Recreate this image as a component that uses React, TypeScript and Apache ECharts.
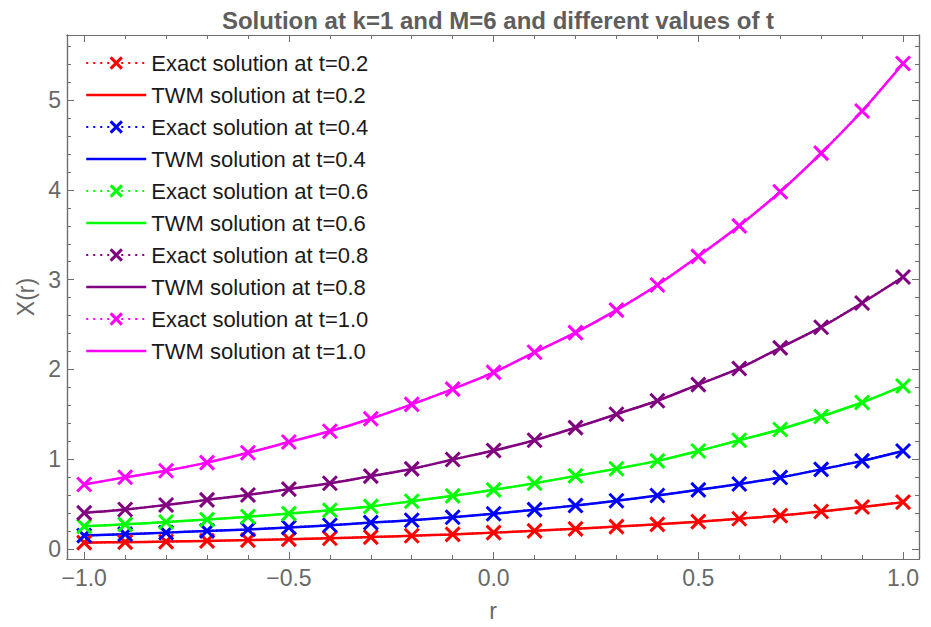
import React, { useEffect, useRef } from "react";
import * as echarts from "echarts";

const TITLE = "Solution at k=1 and M=6 and different values of t";
const X_NAME = "r";
const Y_NAME = "X(r)";

const rValues = [-1, -0.9, -0.8, -0.7, -0.6, -0.5, -0.4, -0.3, -0.2, -0.1, 0, 0.1, 0.2, 0.3, 0.4, 0.5, 0.6, 0.7, 0.8, 0.9, 1];

const valuesT02 = [0.068, 0.074, 0.080, 0.088, 0.097, 0.107, 0.118, 0.130, 0.145, 0.160, 0.180, 0.200, 0.222, 0.247, 0.272, 0.302, 0.335, 0.370, 0.415, 0.465, 0.520];
const valuesT04 = [0.147, 0.163, 0.180, 0.199, 0.215, 0.238, 0.262, 0.292, 0.318, 0.352, 0.390, 0.436, 0.482, 0.535, 0.594, 0.657, 0.722, 0.795, 0.885, 0.980, 1.090];
const valuesT06 = [0.250, 0.272, 0.298, 0.325, 0.358, 0.392, 0.430, 0.472, 0.530, 0.590, 0.657, 0.730, 0.812, 0.892, 0.980, 1.090, 1.210, 1.330, 1.475, 1.630, 1.815];
const valuesT08 = [0.400, 0.438, 0.488, 0.545, 0.600, 0.665, 0.730, 0.810, 0.890, 0.995, 1.095, 1.210, 1.350, 1.500, 1.650, 1.830, 2.010, 2.240, 2.470, 2.740, 3.030];
const valuesT10 = [0.716, 0.797, 0.870, 0.960, 1.070, 1.190, 1.310, 1.450, 1.610, 1.780, 1.966, 2.190, 2.410, 2.660, 2.940, 3.260, 3.600, 3.980, 4.410, 4.880, 5.410];

const tLabels = ["0.2", "0.4", "0.6", "0.8", "1.0"];
const tValues = [valuesT02, valuesT04, valuesT06, valuesT08, valuesT10];
const tColors = ["#ff0000", "#0000ff", "#00ff00", "#800080", "#ff00ff"];

const xMajorTicks = [-1, -0.5, 0, 0.5, 1];
const xMinorTicks = [-1, -0.9, -0.8, -0.7, -0.6, -0.5, -0.4, -0.3, -0.2, -0.1, 0, 0.1, 0.2, 0.3, 0.4, 0.5, 0.6, 0.7, 0.8, 0.9, 1];
const yMajorTicks = [0, 1, 2, 3, 4, 5];
const yMinorTicks = [0, 0.2, 0.4, 0.6, 0.8, 1, 1.2, 1.4, 1.6, 1.8, 2, 2.2, 2.4, 2.6, 2.8, 3, 3.2, 3.4, 3.6, 3.8, 4, 4.2, 4.4, 4.6, 4.8, 5, 5.2, 5.4, 5.6];

const X_MIN = -1.042;
const X_MAX = 1.039;
const Y_MIN = -0.114;
const Y_MAX = 5.727;

const FONT = "'Liberation Sans', Arial, sans-serif";
const FRAME = "#6e6e6e";
const LABEL = "#686868";
const X_SYMBOL = "path://M0,0L10,10M10,0L0,10";

function fmtX(v: number) {
  return v.toFixed(1).replace("-", "\u2212");
}

export default function App() {
  const ref = useRef<HTMLDivElement>(null);
  useEffect(() => {
    if (!ref.current) return;
    const chart = echarts.init(ref.current, null, { renderer: "svg" });

    const series: any[] = [];
    const legendData: any[] = [];
    tLabels.forEach((t, i) => {
      const data = rValues.map((r, k) => [r, tValues[i][k]]);
      const c = tColors[i];
      const exactName = `Exact solution at t=${t}`;
      const twmName = `TWM solution at t=${t}`;
      series.push({
        name: exactName,
        type: "line",
        data,
        xAxisIndex: 0,
        yAxisIndex: 0,
        symbol: X_SYMBOL,
        symbolSize: 14,
        showAllSymbol: true,
        lineStyle: { color: c, width: 2, type: "dotted" },
        itemStyle: { color: c, borderColor: c, borderWidth: 3 },
        z: 3,
      });
      series.push({
        name: twmName,
        type: "line",
        data,
        xAxisIndex: 0,
        yAxisIndex: 0,
        smooth: 0.3,
        symbol: "none",
        lineStyle: { color: c, width: 2.5, type: "solid" },
        itemStyle: { color: c },
        z: 2,
      });
      legendData.push({
        name: exactName,
        itemStyle: { color: c, borderColor: c, borderWidth: 3, opacity: 1 },
        lineStyle: { color: c, width: 2, type: [2, 5] },
      });
      legendData.push({
        name: twmName,
        itemStyle: { opacity: 0 },
        lineStyle: { color: c, width: 2.5, type: "solid" },
      });
    });

    const baseX = {
      type: "value",
      min: X_MIN,
      max: X_MAX,
      gridIndex: 0,
      splitLine: { show: false },
      axisLine: { show: true, onZero: false, lineStyle: { color: FRAME, width: 1.2 } },
    };
    const baseY = {
      type: "value",
      min: Y_MIN,
      max: Y_MAX,
      gridIndex: 0,
      splitLine: { show: false },
      axisLine: { show: true, onZero: false, lineStyle: { color: FRAME, width: 1.2 } },
    };

    chart.setOption({
      animation: false,
      backgroundColor: "#ffffff",
      title: {
        text: TITLE,
        left: 493,
        textAlign: "center",
        top: 3,
        textStyle: { fontFamily: FONT, fontSize: 24, fontWeight: "bold", color: "#5e5e5e" },
      },
      grid: { left: 67, top: 35, right: 12, bottom: 64, containLabel: false },
      legend: {
        orient: "vertical",
        left: 80,
        top: 47,
        itemWidth: 60,
        itemHeight: 14,
        itemGap: 10,
        data: legendData,
        textStyle: {
          fontFamily: FONT,
          fontSize: 22,
          lineHeight: 22,
          color: "#1a1a1a",
        },
      },
      xAxis: [
        {
          ...baseX,
          position: "bottom",
          name: X_NAME,
          nameLocation: "middle",
          nameGap: 40,
          nameTextStyle: { fontFamily: FONT, fontSize: 23, color: LABEL },
          axisTick: { show: true, inside: true, length: 7, customValues: xMajorTicks, lineStyle: { color: FRAME } },
          axisLabel: {
            show: true,
            customValues: xMajorTicks,
            margin: 7,
            fontFamily: FONT,
            fontSize: 23,
            color: LABEL,
            formatter: (v: number) => fmtX(v),
          },
        },
        {
          ...baseX,
          position: "bottom",
          axisTick: { show: true, inside: true, length: 4, customValues: xMinorTicks, lineStyle: { color: FRAME } },
          axisLabel: { show: false },
        },
        {
          ...baseX,
          position: "top",
          axisTick: { show: true, inside: true, length: 7, customValues: xMajorTicks, lineStyle: { color: FRAME } },
          axisLabel: { show: false },
        },
        {
          ...baseX,
          position: "top",
          axisTick: { show: true, inside: true, length: 4, customValues: xMinorTicks, lineStyle: { color: FRAME } },
          axisLabel: { show: false },
        },
      ],
      yAxis: [
        {
          ...baseY,
          position: "left",
          name: Y_NAME,
          nameLocation: "middle",
          nameRotate: 90,
          nameGap: 30,
          nameTextStyle: { fontFamily: FONT, fontSize: 23, color: LABEL },
          axisTick: { show: true, inside: true, length: 7, customValues: yMajorTicks, lineStyle: { color: FRAME } },
          axisLabel: {
            show: true,
            customValues: yMajorTicks,
            margin: 6,
            fontFamily: FONT,
            fontSize: 23,
            color: LABEL,
            formatter: (v: number) => String(Math.round(v)),
          },
        },
        {
          ...baseY,
          position: "left",
          axisTick: { show: true, inside: true, length: 4, customValues: yMinorTicks, lineStyle: { color: FRAME } },
          axisLabel: { show: false },
        },
        {
          ...baseY,
          position: "right",
          axisTick: { show: true, inside: true, length: 7, customValues: yMajorTicks, lineStyle: { color: FRAME } },
          axisLabel: { show: false },
        },
        {
          ...baseY,
          position: "right",
          axisTick: { show: true, inside: true, length: 4, customValues: yMinorTicks, lineStyle: { color: FRAME } },
          axisLabel: { show: false },
        },
      ],
      series,
    });

    return () => chart.dispose();
  }, []);

  return (
    <div
      ref={ref}
      style={{ position: "fixed", left: 0, top: 0, width: 931, height: 627, background: "#fff" }}
    />
  );
}
